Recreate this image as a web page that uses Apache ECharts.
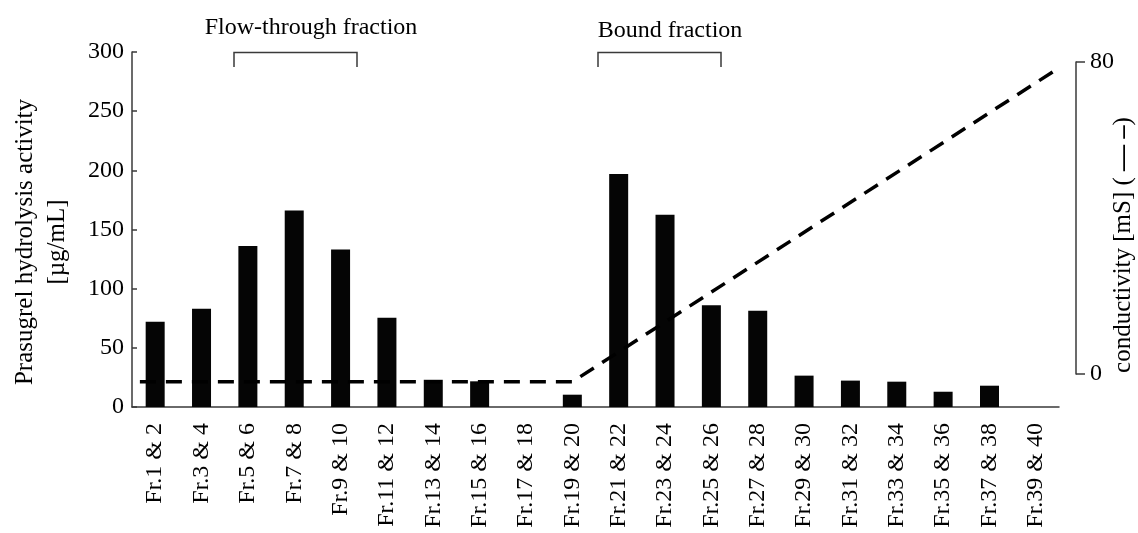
<!DOCTYPE html>
<html>
<head>
<meta charset="utf-8">
<script src="https://cdn.jsdelivr.net/npm/echarts@6/dist/echarts.min.js"></script>
<style>
html,body{margin:0;padding:0;background:#fff;}
#chart{width:1138px;height:533px;}
</style>
</head>
<body>
<div id="chart"></div>
<script>
// ---- data ----
const categories = ['Fr.1 & 2','Fr.3 & 4','Fr.5 & 6','Fr.7 & 8','Fr.9 & 10','Fr.11 & 12','Fr.13 & 14','Fr.15 & 16','Fr.17 & 18','Fr.19 & 20',
  'Fr.21 & 22','Fr.23 & 24','Fr.25 & 26','Fr.27 & 28','Fr.29 & 30','Fr.31 & 32','Fr.33 & 34','Fr.35 & 36','Fr.37 & 38','Fr.39 & 40'];
const activity = [72, 83, 136, 166, 133, 75.5, 23, 21.7, 0, 10.4, 197, 162.5, 86, 81.4, 26.5, 22.3, 21.4, 12.9, 18, 0];
// conductivity gradient: x in fraction-pair index units, y in mS
const conductivityX = [-0.33, 9, 19.5];
const conductivityY = [-2, -2, 78.5];
const leftTicks = [0, 50, 100, 150, 200, 250, 300];
const rightTicks = [0, 80];
const annotations = ['Flow-through fraction', 'Bound fraction'];

const FONT = '"Liberation Serif", "Times New Roman", serif';
const AX = '#3a3a3a';

const chart = echarts.init(document.getElementById('chart'), null, {renderer: 'canvas'});
const option = {
  backgroundColor: '#fff',
  animation: false,
  grid: [
    {left: 132, right: 79, top: 52, height: 355},
    {left: 132, right: 79, top: 62, height: 312}
  ],
  xAxis: [
    {
      type: 'category', gridIndex: 0, data: categories,
      boundaryGap: true,
      axisLine: {lineStyle: {color: AX, width: 1.5}},
      axisTick: {show: false},
      axisLabel: {rotate: 90, margin: 16, color: '#000', fontFamily: FONT, fontSize: 24, interval: 0}
    },
    {
      type: 'value', gridIndex: 1, min: -0.5, max: 19.5, show: false
    }
  ],
  yAxis: [
    {
      type: 'value', gridIndex: 0, min: leftTicks[0], max: leftTicks[leftTicks.length - 1], interval: 50,
      axisLine: {show: true, onZero: false, lineStyle: {color: AX, width: 1.5}},
      axisTick: {show: true, inside: true, length: 5, lineStyle: {color: AX, width: 1.5}},
      splitLine: {show: false},
      axisLabel: {color: '#000', fontFamily: FONT, fontSize: 24, margin: 8, padding: [14, 0, 0, 0],
        formatter: v => leftTicks.indexOf(v) >= 0 ? String(v) : ''}
    },
    {
      type: 'value', gridIndex: 1, position: 'right', offset: 17,
      min: rightTicks[0], max: rightTicks[1], interval: 80,
      axisLine: {show: true, onZero: false, lineStyle: {color: AX, width: 1.5}},
      axisTick: {show: true, inside: false, length: 9, lineStyle: {color: AX, width: 1.5}},
      splitLine: {show: false},
      axisLabel: {color: '#000', fontFamily: FONT, fontSize: 24, margin: 14,
        formatter: v => rightTicks.indexOf(v) >= 0 ? String(v) : ''}
    }
  ],
  series: [
    {
      type: 'bar', xAxisIndex: 0, yAxisIndex: 0, data: activity,
      barWidth: 19, itemStyle: {color: '#050505'}
    },
    {
      type: 'line', xAxisIndex: 1, yAxisIndex: 1, clip: false,
      data: conductivityX.map((x, i) => [x, conductivityY[i]]),
      symbol: 'none', z: 5,
      lineStyle: {color: '#000', width: 3.5, type: [16, 10]}
    }
  ],
  graphic: [
    {type: 'text', x: 25, y: 242, rotation: Math.PI / 2,
      style: {text: 'Prasugrel hydrolysis activity', font: '25px ' + FONT, fill: '#000', textAlign: 'center', textVerticalAlign: 'middle'}},
    {type: 'text', x: 57, y: 242, rotation: Math.PI / 2,
      style: {text: '[µg/mL]', font: '25px ' + FONT, fill: '#000', textAlign: 'center', textVerticalAlign: 'middle'}},
    {type: 'text', x: 1123, y: 245, rotation: Math.PI / 2,
      style: {text: 'conductivity [mS] ( {d|— –})', font: '25px ' + FONT, fill: '#000', textAlign: 'center', textVerticalAlign: 'middle',
        rich: {d: {fontFamily: FONT, fontSize: 26, fontWeight: 'bold', fill: '#000'}}}},
    {type: 'text', x: 311, y: 28,
      style: {text: annotations[0], font: '24px ' + FONT, fill: '#000', textAlign: 'center', textVerticalAlign: 'middle'}},
    {type: 'text', x: 670, y: 31,
      style: {text: annotations[1], font: '24px ' + FONT, fill: '#000', textAlign: 'center', textVerticalAlign: 'middle'}},
    {type: 'polyline', shape: {points: [[234, 67], [234, 52.5], [357, 52.5], [357, 67]]},
      style: {stroke: AX, lineWidth: 1.5, fill: null}},
    {type: 'polyline', shape: {points: [[598, 67], [598, 52.5], [721, 52.5], [721, 67]]},
      style: {stroke: AX, lineWidth: 1.5, fill: null}}
  ]
};
chart.setOption(option);
</script>
</body>
</html>
